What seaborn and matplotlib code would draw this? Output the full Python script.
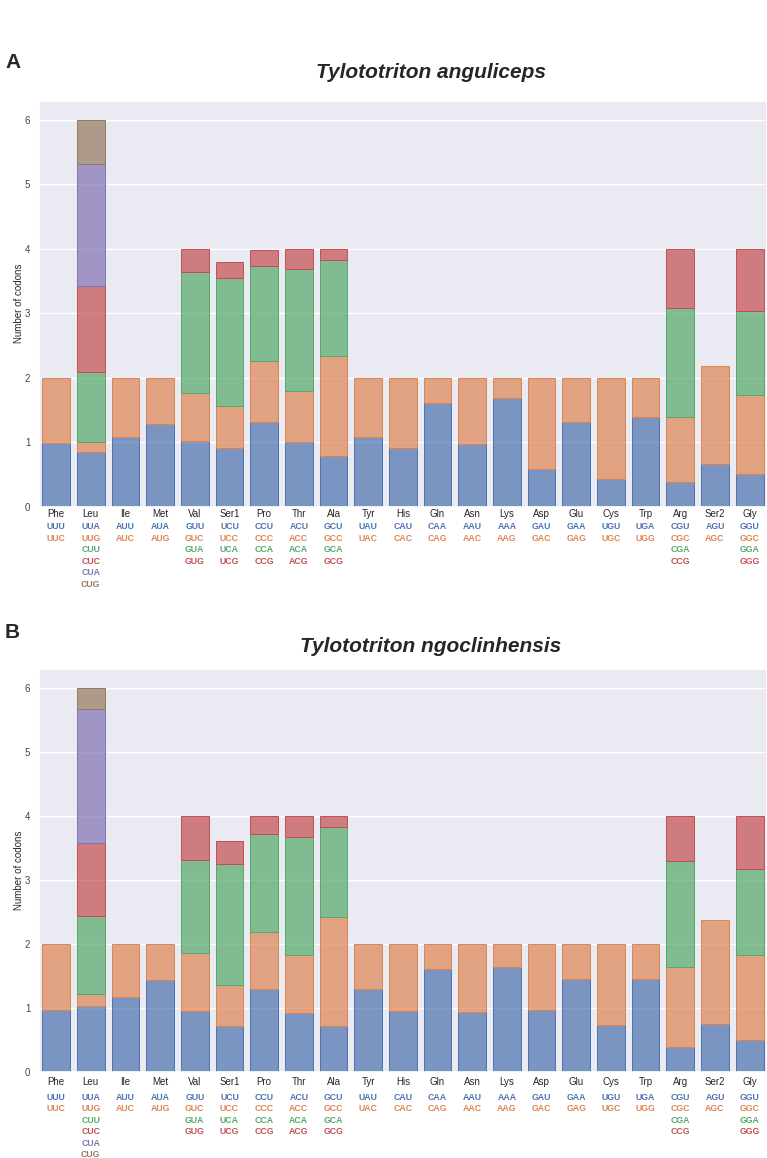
import numpy as np
import pandas as pd
import matplotlib.pyplot as plt
import seaborn as sns

amino = ['Phe', 'Leu', 'Ile', 'Met', 'Val', 'Ser1', 'Pro', 'Thr', 'Ala', 'Tyr', 'His',
         'Gln', 'Asn', 'Lys', 'Asp', 'Glu', 'Cys', 'Trp', 'Arg', 'Ser2', 'Gly']

codons = [['UUU', 'UUC'], ['UUA', 'UUG', 'CUU', 'CUC', 'CUA', 'CUG'], ['AUU', 'AUC'],
          ['AUA', 'AUG'], ['GUU', 'GUC', 'GUA', 'GUG'], ['UCU', 'UCC', 'UCA', 'UCG'],
          ['CCU', 'CCC', 'CCA', 'CCG'], ['ACU', 'ACC', 'ACA', 'ACG'],
          ['GCU', 'GCC', 'GCA', 'GCG'], ['UAU', 'UAC'], ['CAU', 'CAC'], ['CAA', 'CAG'],
          ['AAU', 'AAC'], ['AAA', 'AAG'], ['GAU', 'GAC'], ['GAA', 'GAG'], ['UGU', 'UGC'],
          ['UGA', 'UGG'], ['CGU', 'CGC', 'CGA', 'CCG'], ['AGU', 'AGC'],
          ['GGU', 'GGC', 'GGA', 'GGG']]

# RSCU of each codon (stack order = codon order above)
anguliceps = [[0.99, 1.01], [0.85, 0.16, 1.08, 1.34, 1.88, 0.69], [1.09, 0.91],
              [1.28, 0.72], [1.02, 0.75, 1.87, 0.36], [0.91, 0.65, 1.99, 0.25],
              [1.32, 0.94, 1.48, 0.25], [1.00, 0.80, 1.89, 0.31], [0.79, 1.55, 1.49, 0.17],
              [1.09, 0.91], [0.92, 1.08], [1.61, 0.39], [0.98, 1.02], [1.69, 0.31],
              [0.59, 1.41], [1.32, 0.68], [0.44, 1.56], [1.40, 0.60],
              [0.39, 1.00, 1.70, 0.91], [0.67, 1.52], [0.51, 1.23, 1.30, 0.96]]

ngoclinhensis = [[0.97, 1.03], [1.04, 0.18, 1.22, 1.14, 2.10, 0.32], [1.18, 0.82],
                 [1.44, 0.56], [0.96, 0.91, 1.44, 0.69], [0.73, 0.63, 1.90, 0.36],
                 [1.30, 0.89, 1.54, 0.27], [0.92, 0.91, 1.84, 0.33], [0.72, 1.70, 1.41, 0.17],
                 [1.30, 0.70], [0.96, 1.04], [1.62, 0.38], [0.94, 1.06], [1.64, 0.36],
                 [0.97, 1.03], [1.46, 0.54], [0.74, 1.26], [1.46, 0.54],
                 [0.39, 1.25, 1.66, 0.70], [0.76, 1.62], [0.51, 1.32, 1.35, 0.82]]

species = ['Tylototriton anguliceps', 'Tylototriton ngoclinhensis']

sns.set_theme(style='darkgrid')
plt.rcParams['font.family'] = ['Liberation Sans', 'DejaVu Sans']
pal = sns.color_palette('deep')

W, H = 767, 1158
fig = plt.figure(figsize=(W / 100, H / 100), dpi=100)


def long_table(values):
    rows = []
    for aa, vals in zip(amino, values):
        base = 0.0
        for k, v in enumerate(vals):
            rows.append({'aa': aa, 'pos': k, 'value': v, 'bottom': base})
            base += v
    return pd.DataFrame(rows)


def draw(ax, values, title, letter, lab_off, cod_off, title_y, letter_y):
    df = long_table(values)
    for k in range(6):
        sub = df[df['pos'] == k]
        c = pal[k]
        sns.barplot(data=sub, x='aa', y='value', order=amino, ax=ax, errorbar=None,
                    width=0.8, color=c, saturation=1, bottom=sub['bottom'].values,
                    facecolor=(*c, 0.7), edgecolor=c, linewidth=0.7)
    ax.set_xlim(-0.5, len(amino) - 0.5)
    ax.set_ylim(0, 6.3)
    ax.set_yticks(range(7))
    ax.set_xlabel('')
    ax.set_ylabel('Number of codons', fontsize=7, color='#262626', labelpad=1)
    ax.tick_params(axis='y', labelsize=7, labelcolor='#444444', pad=0)
    ax.set_xticks(range(len(amino)))
    ax.set_xticklabels([])
    for i, aa in enumerate(amino):
        ax.annotate(aa, xy=(i, 0), xycoords=('data', 'axes fraction'),
                    xytext=(0, -lab_off), textcoords='offset pixels',
                    ha='center', va='center', fontsize=7, color='#262626')
        for r, cod in enumerate(codons[i]):
            ax.annotate(cod, xy=(i, 0), xycoords=('data', 'axes fraction'),
                        xytext=(0, -cod_off - 11.5 * r), textcoords='offset pixels',
                        ha='center', va='center', fontsize=6.3, fontweight='bold',
                        color=pal[r])
    fig.text(431 / W, 1 - title_y / H, title, ha='center', va='center', fontsize=15,
             fontweight='bold', fontstyle='italic')
    fig.text(5 / W, 1 - letter_y / H, letter, ha='left', va='center', fontsize=15,
             fontweight='bold')


ax1 = fig.add_axes([0.0505, 0.5622, 0.9495, 0.3509])
ax2 = fig.add_axes([0.0505, 0.0740, 0.9495, 0.3483])
draw(ax1, anguliceps, species[0], 'A', 7, 20, 73, 63)
draw(ax2, ngoclinhensis, species[1], 'B', 10, 25, 646, 632)

fig.savefig('out.png', dpi=100)
